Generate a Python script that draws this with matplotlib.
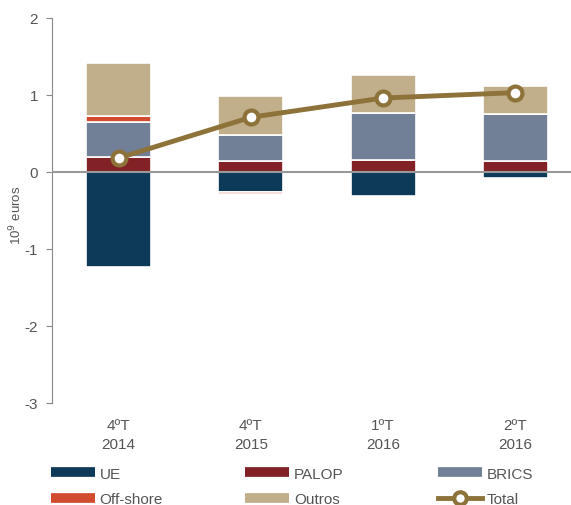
import matplotlib
matplotlib.use("Agg")
from matplotlib import pyplot as plt
from matplotlib.lines import Line2D
import numpy as np

plt.rcParams['font.family'] = ['Liberation Sans', 'DejaVu Sans']

periods = ["4ºT\n2014", "4ºT\n2015", "1ºT\n2016", "2ºT\n2016"]
ue = [-1.23, -0.26, -0.31, -0.08]
palop = [0.20, 0.14, 0.16, 0.14]
brics = [0.45, 0.34, 0.60, 0.61]
offshore = [0.08, -0.03, 0.0, 0.0]
outros = [0.69, 0.51, 0.50, 0.37]
total = [0.18, 0.71, 0.96, 1.03]

series = [("UE", ue, "#0e3a5a"), ("PALOP", palop, "#822226"),
          ("BRICS", brics, "#728097"), ("Off-shore", offshore, "#d24b2f"),
          ("Outros", outros, "#c1ae8b")]
line_col = "#8d7339"
txt = "#555555"

fig = plt.figure(figsize=(5.71, 5.06), dpi=100)
ax = fig.add_axes([0.091, 0.2016, 0.909, 0.761])

x = np.arange(len(periods))
pos = np.zeros(len(periods))
neg = np.zeros(len(periods))
for name, vals, col in series:
    vals = np.array(vals)
    bottom = np.where(vals >= 0, pos, neg)
    ax.bar(x, vals, 0.49, bottom=bottom, color=col, edgecolor="white",
           linewidth=1.2, zorder=2)
    pos = pos + np.clip(vals, 0, None)
    neg = neg + np.clip(vals, None, 0)

ax.axhline(0, color="#999999", lw=1.5, zorder=3)
ax.plot(x, total, color=line_col, lw=3.5, marker="o", markersize=10,
        markerfacecolor="white", markeredgecolor=line_col, markeredgewidth=3,
        zorder=4)

ax.set_xlim(-0.503, 3.42)
ax.set_ylim(-3, 2)
ax.set_yticks([-3, -2, -1, 0, 1, 2])
ax.set_yticklabels(["-3", "-2", "-1", "0", "1", "2"])
ax.set_xticks(x)
ax.set_xticklabels(periods, linespacing=1.45)
for s in ["top", "right", "bottom"]:
    ax.spines[s].set_visible(False)
ax.spines["left"].set_color("#888888")
ax.tick_params(axis="y", colors="#888888", labelcolor=txt, labelsize=11,
               length=4, pad=6)
ax.tick_params(axis="x", length=0, labelcolor=txt, labelsize=11, pad=11)
ax.set_ylabel("10$^9$ euros", color=txt, fontsize=9.5)
ax.yaxis.set_label_coords(-0.054, 0.49)

handles = [Line2D([], [], color=c, lw=7, solid_capstyle="butt") for _, _, c in series]
handles.append(Line2D([], [], color=line_col, lw=3.5, marker="o", markersize=9,
                      markerfacecolor="white", markeredgecolor=line_col,
                      markeredgewidth=3))
labels = [n for n, _, _ in series] + ["Total"]
columns = [[0, 3], [1, 4], [2, 5]]
col_x = [0.089, 0.429, 0.767]
for xs, idx in zip(col_x, columns):
    leg = fig.legend([handles[i] for i in idx], [labels[i] for i in idx],
                     loc="upper left", bbox_to_anchor=(xs, 0.076),
                     frameon=False, fontsize=11, handlelength=2.9,
                     labelspacing=0.75, handletextpad=0.3,
                     borderaxespad=0, borderpad=0)
    for t in leg.get_texts():
        t.set_color(txt)

fig.savefig("out.png", dpi=100)
